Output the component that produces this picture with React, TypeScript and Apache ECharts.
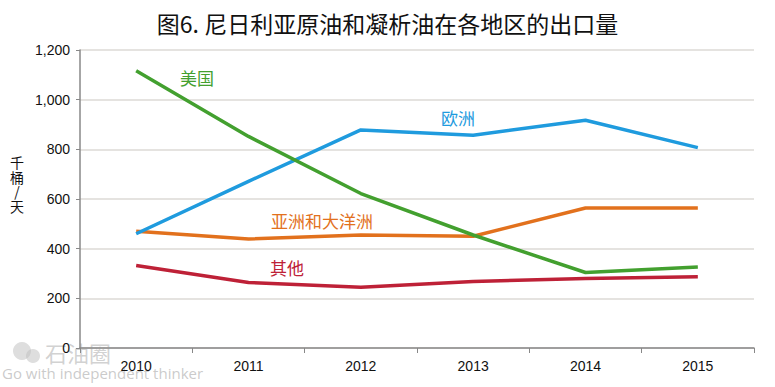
import React, { useEffect, useRef } from "react";
import * as echarts from "echarts";

const years = ["2010", "2011", "2012", "2013", "2014", "2015"];
const usa = [1116, 852, 622, 455, 304, 326];
const europe = [460, 671, 878, 857, 917, 807];
const asiaOceania = [470, 439, 455, 450, 564, 564];
const others = [332, 264, 245, 268, 280, 287];

const seriesNames = ["美国", "欧洲", "亚洲和大洋洲", "其他"];
const colors = ["#43a02f", "#1f9bde", "#e2711d", "#be2137"];
const yAxisTitle = ["千", "桶", "/", "天"];

const CJK = "'Noto Sans CJK SC', 'Noto Sans', sans-serif";
const LAT = "'Liberation Sans', Arial, sans-serif";

export default function App() {
  const ref = useRef<HTMLDivElement>(null);
  useEffect(() => {
    document.body.style.margin = "0";
    if (!ref.current) return;
    const chart = echarts.init(ref.current, undefined, { renderer: "svg" });
    const data = [usa, europe, asiaOceania, others];
    const labelPos = [
      [197, 77],
      [458, 117],
      [322, 220],
      [287, 267],
    ];
    chart.setOption({
      animation: false,
      backgroundColor: "#ffffff",
      title: {
        text: "图6. 尼日利亚原油和凝析油在各地区的出口量",
        left: "center",
        top: 6,
        textStyle: { fontFamily: CJK, fontSize: 23, fontWeight: "normal", color: "#111" },
      },
      grid: { left: 80, right: 21, top: 50, bottom: 39 },
      xAxis: {
        type: "category",
        data: years,
        boundaryGap: true,
        axisLine: { lineStyle: { color: "#888", width: 1.5 } },
        axisTick: { show: true, length: 5, lineStyle: { color: "#888" } },
        axisLabel: { color: "#111", fontFamily: LAT, fontSize: 14, margin: 11 },
      },
      yAxis: {
        type: "value",
        min: 0,
        max: 1200,
        interval: 200,
        axisLine: { show: true, lineStyle: { color: "#888", width: 1.5 } },
        axisTick: { show: true, length: 4, lineStyle: { color: "#888" } },
        axisLabel: {
          color: "#111",
          fontFamily: LAT,
          fontSize: 14,
          margin: 10,
          formatter: (v: number) => v.toLocaleString("en-US"),
        },
        splitLine: { lineStyle: { color: "#dcdad6", width: 1.5 } },
      },
      series: data.map((d, i) => ({
        name: seriesNames[i],
        type: "line",
        data: d,
        symbol: "none",
        lineStyle: { color: colors[i], width: 3.5 },
        z: 10 - i,
      })),
      graphic: [
        ...yAxisTitle.map((c, i) => ({
          type: "text",
          x: 17,
          y: 162 + i * 14.5,
          style: {
            text: c,
            font: `14px ${CJK}`,
            fill: "#111",
            align: "center",
            verticalAlign: "middle",
          },
        })),
        ...seriesNames.map((n, i) => ({
          type: "text",
          x: labelPos[i][0],
          y: labelPos[i][1],
          style: {
            text: n,
            font: `17px ${CJK}`,
            fill: colors[i],
            align: "center",
            verticalAlign: "middle",
          },
        })),
        {
          type: "text",
          x: 45,
          y: 352,
          z: -1,
          style: { text: "石油圈", font: `22px ${CJK}`, fill: "rgba(180,180,180,0.6)", verticalAlign: "middle" },
        },
        {
          type: "text",
          x: 2,
          y: 373,
          z: -1,
          style: { text: "Go with independent thinker", font: `15px 'Open Sans', sans-serif`, fill: "rgba(180,180,180,0.7)", verticalAlign: "middle" },
        },
        {
          type: "circle",
          z: -1,
          shape: { cx: 22, cy: 351, r: 9 },
          style: { fill: "rgba(190,190,190,0.5)" },
        },
        {
          type: "circle",
          z: -1,
          shape: { cx: 33, cy: 356, r: 7 },
          style: { fill: "rgba(190,190,190,0.5)" },
        },
      ],
    });
    return () => chart.dispose();
  }, []);
  return <div ref={ref} style={{ width: 775, height: 387 }} />;
}
